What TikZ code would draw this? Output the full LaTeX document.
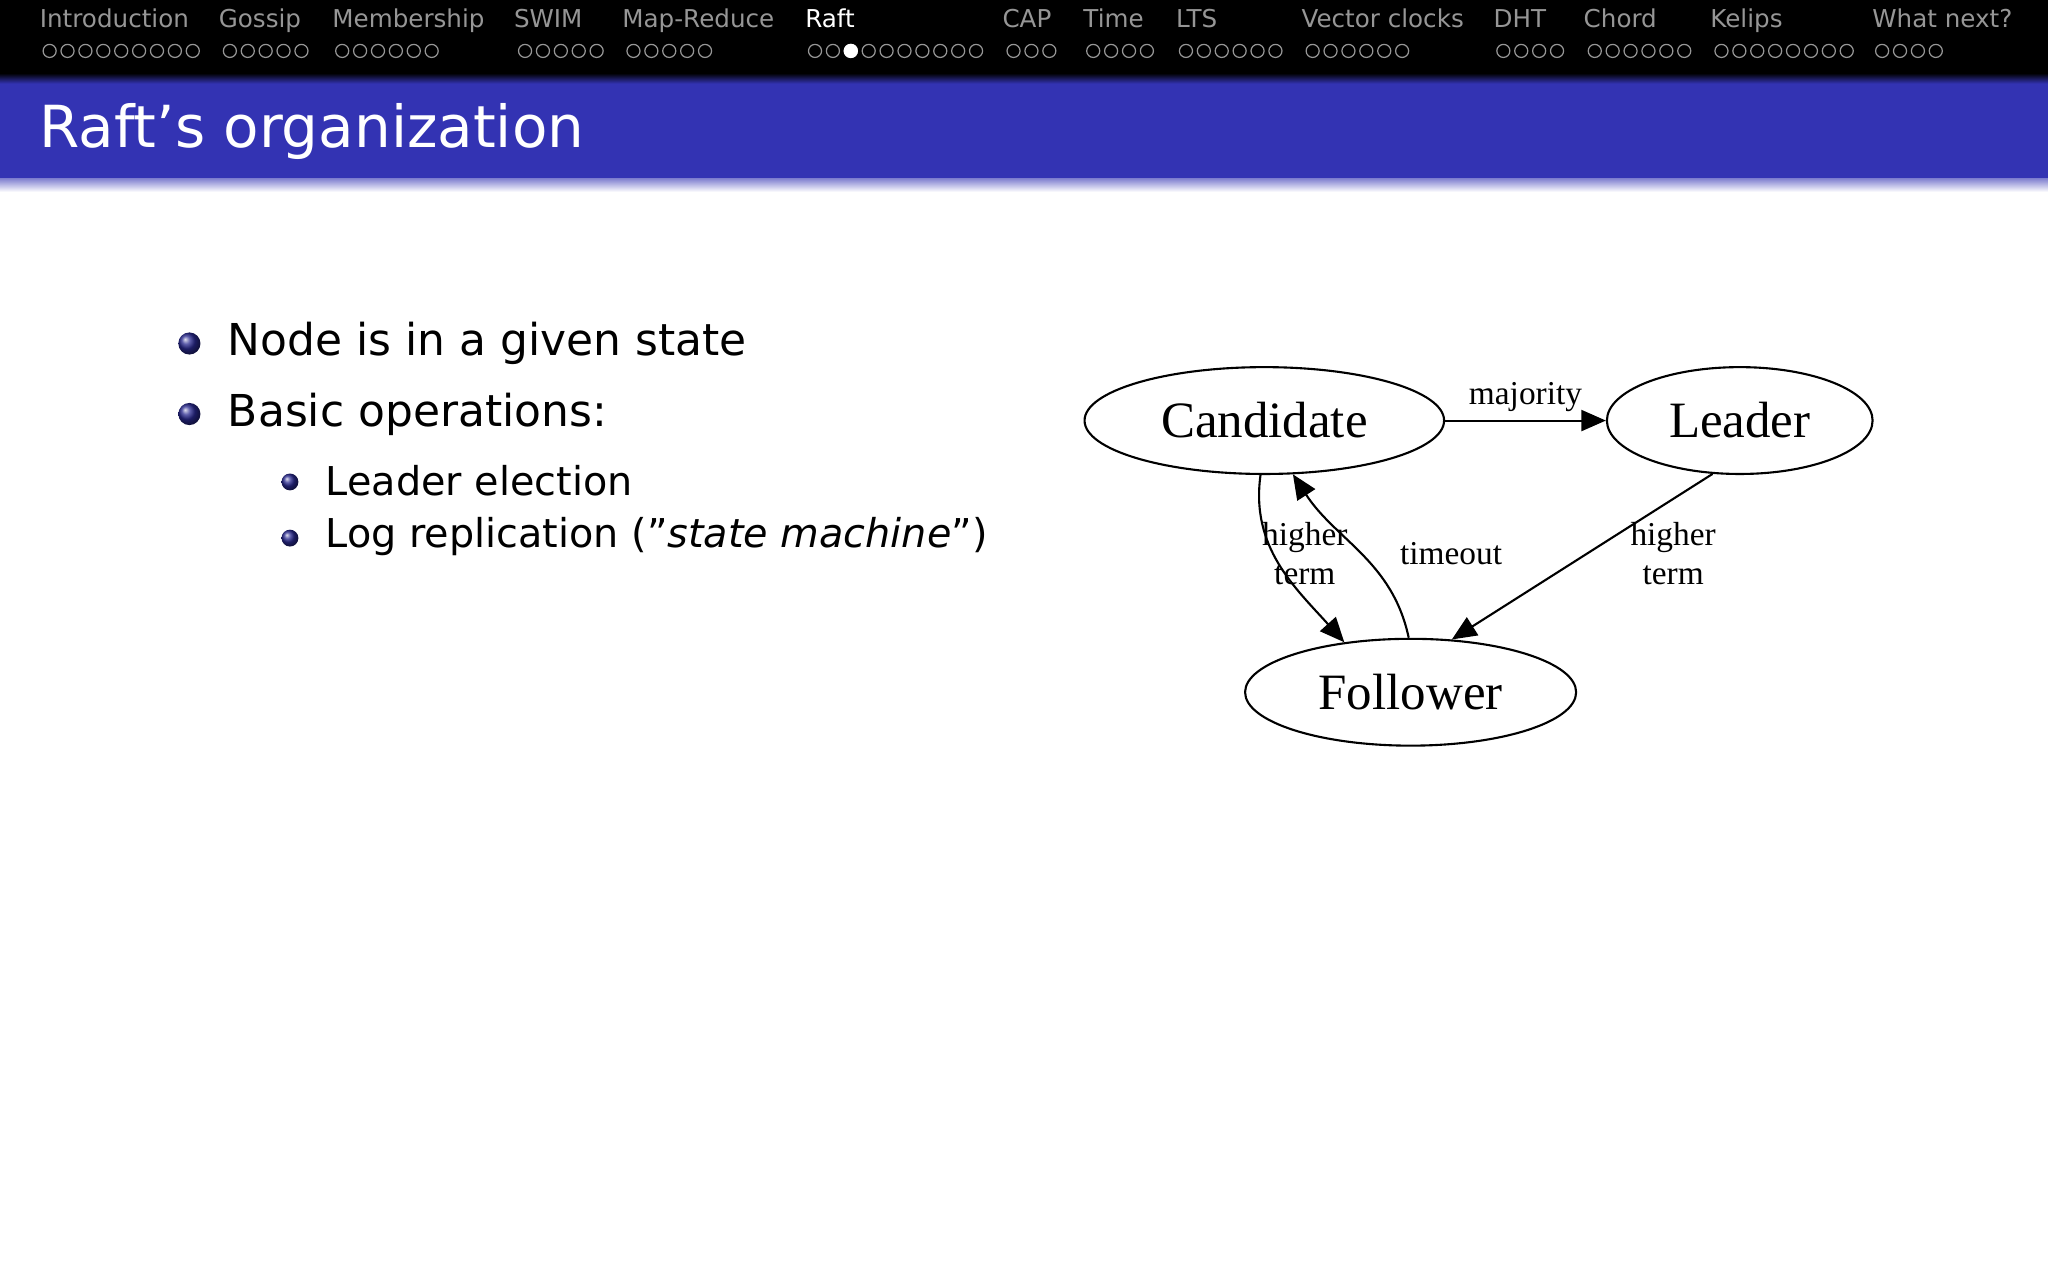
\documentclass[tikz,border=0pt]{standalone}
\usepackage{fontspec}
\setmainfont{DejaVu Sans}
\newfontfamily\gv{Liberation Serif}
\usetikzlibrary{arrows.meta,shapes.geometric}
\definecolor{bblue}{RGB}{51,51,179}
\definecolor{navgray}{RGB}{150,150,150}
\tikzset{
  navtxt/.style={anchor=west,text=navgray,font=\fontsize{7}{8}\selectfont,inner sep=0},
  navdot/.style={draw=navgray,line width=0.35pt},
  state/.style={ellipse,draw,line width=0.6pt,font=\gv\fontsize{14.5}{16}\selectfont,inner sep=0},
  elab/.style={font=\gv\fontsize{9.5}{11}\selectfont,align=center},
  edge/.style={line width=0.6pt,-{Triangle[length=7pt,width=6pt]}},
  ball/.style={circle,ball color=bblue!80!black,inner sep=0},
}
\begin{document}
\begin{tikzpicture}[x=0.01306cm,y=-0.01306cm]
\useasboundingbox (0,0) rectangle (1568,980);
\fill[white] (0,0) rectangle (1568,980);
\fill[black] (0,0) rectangle (1568,56);
\shade[top color=black,bottom color=bblue] (0,56) rectangle (1568,64);
\fill[bblue] (0,64) rectangle (1568,137);
\shade[top color=bblue!60,bottom color=white] (0,137) rectangle (1568,147);
\node[anchor=west,text=white,font=\fontsize{16.5}{20}\selectfont,inner sep=0] (title) at (30,101) {Raft’s organization};
% navigation
\foreach \name/\tx/\dx/\n [count=\i] in {Introduction/30/38/9,Gossip/167/176/5,Membership/254/262/6,SWIM/393/402/5,Map-Reduce/476/485/5,CAP/767/776/3,Time/829/837/4,LTS/900/908/6,Vector clocks/996/1005/6,DHT/1143/1151/4,Chord/1212/1221/6,Kelips/1309/1318/8,What next?/1433/1441/4}{
  \node[navtxt,anchor=base west] (nav\i) at (30+\tx-30,21) {\name};
  \foreach \k in {1,...,\n}{\draw[navdot] (\dx+13.7*\k-13.7,39) circle (5);}
}
\node[navtxt,text=white,anchor=base west] (navraft) at (616,21) {Raft};
\foreach \k in {1,...,10}{\draw[navdot] (624+13.7*\k-13.7,39) circle (5);}
\fill[white] (624+13.7*2,39) circle (5.5);
% bullets
\node[ball,minimum size=6.3pt] (b1) at (145,263) {};
\node[ball,minimum size=6.3pt] (b2) at (145,317) {};
\node[ball,minimum size=4.8pt] (b3) at (222,369) {};
\node[ball,minimum size=4.8pt] (b4) at (222,412) {};
\node[anchor=west,font=\fontsize{12.5}{15}\selectfont,inner sep=0] (t1) at (174,263) {Node is in a given state};
\node[anchor=west,font=\fontsize{12.5}{15}\selectfont,inner sep=0] (t2) at (174,317) {Basic operations:};
\node[anchor=west,font=\fontsize{11.3}{13}\selectfont,inner sep=0] (t3) at (249,368) {Leader election};
\node[anchor=west,font=\fontsize{11.3}{13}\selectfont,inner sep=0] (t4) at (249,411) {Log replication (\char34\textit{state machine}\char34)};
% graph
\node[state,minimum width=102.3pt,minimum height=30.4pt] (cand) at (968,322) {Candidate};
\node[state,minimum width=75.6pt,minimum height=30.4pt] (lead) at (1332,322) {Leader};
\node[state,minimum width=94.2pt,minimum height=30.4pt] (fol) at (1080,530) {Follower};
\draw[edge] (cand) -- node[elab,above=-1pt] {majority} (lead);
\draw[edge] (cand.266) to[out=-98,in=132] (fol.143);
\node[elab] (l1) at (999,424) {higher\\term};
\draw[edge] (fol.92) to[out=102,in=-57] (cand.298);
\node[elab] (l2) at (1111,424) {timeout};
\draw[edge] (lead.243) -- (fol.52);
\node[elab] (l3) at (1281,424) {higher\\term};
\end{tikzpicture}
\end{document}
